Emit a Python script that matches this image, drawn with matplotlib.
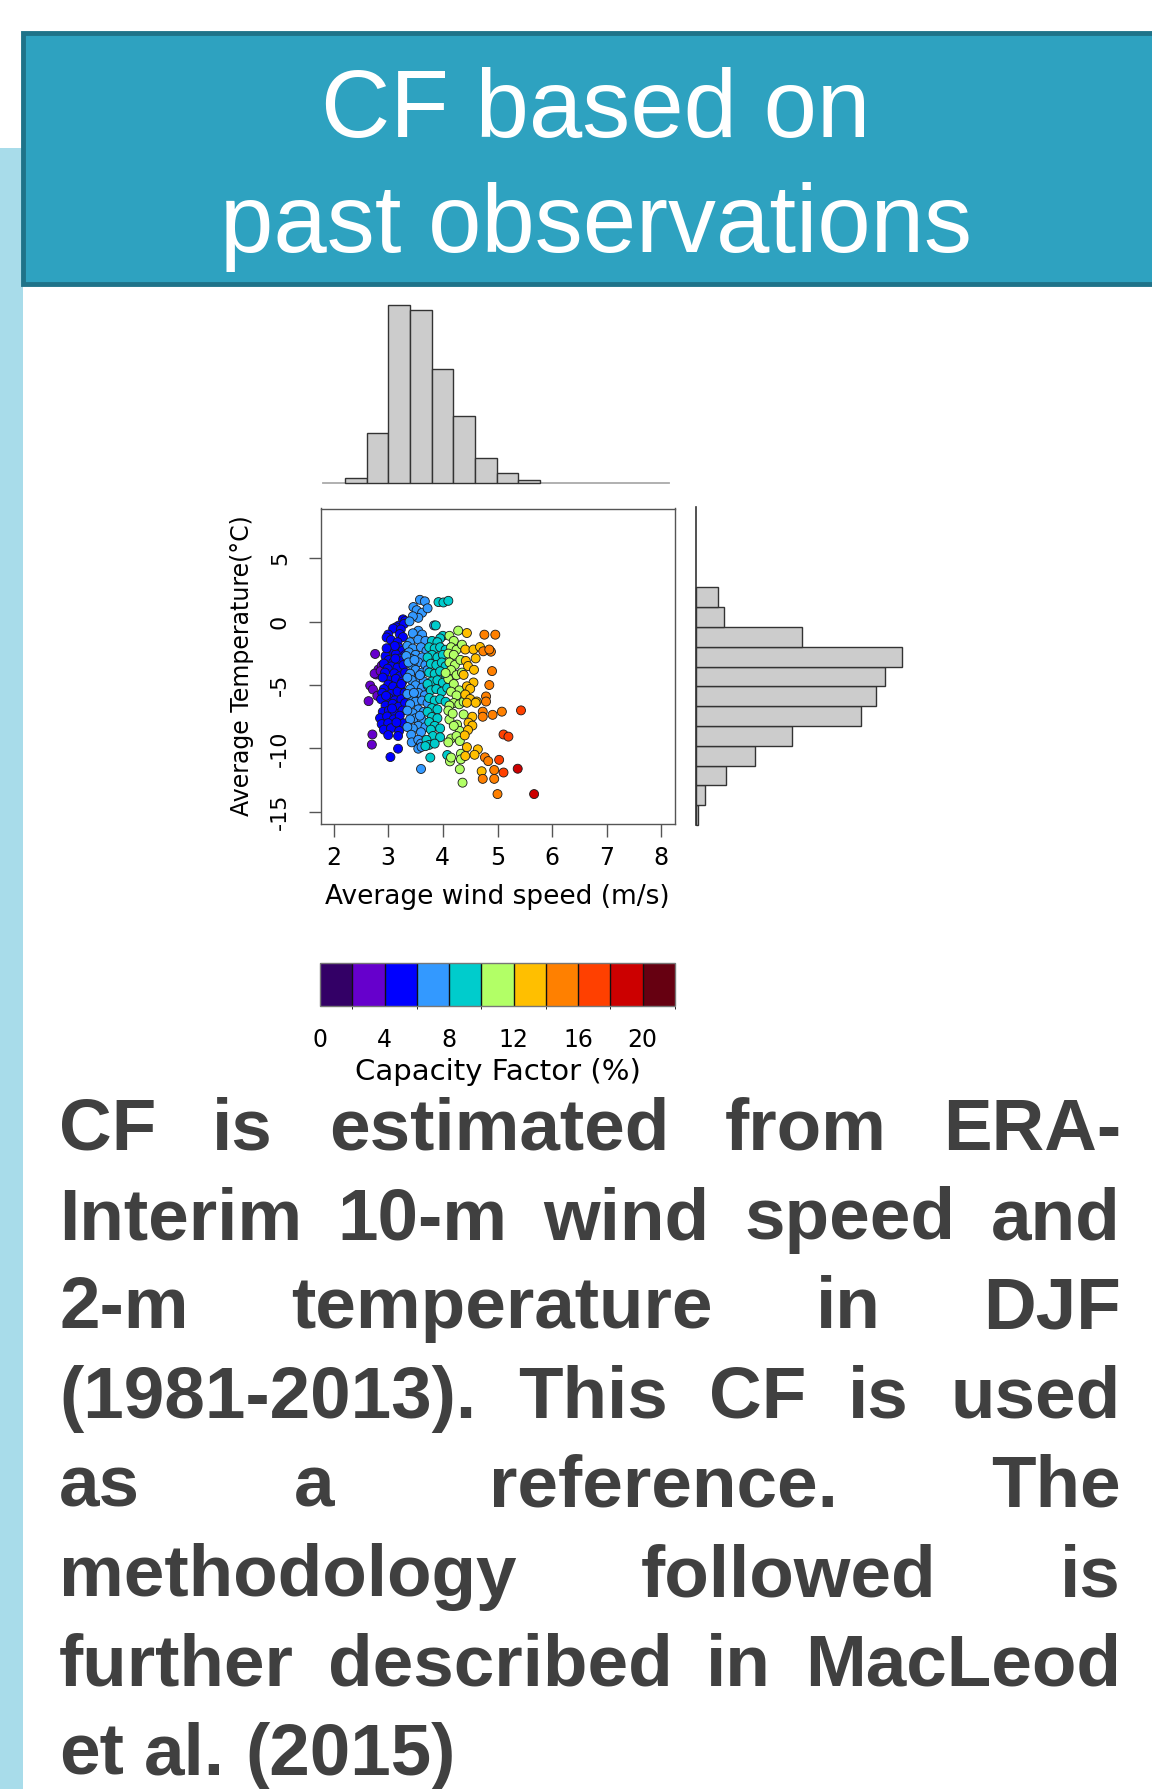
import matplotlib
matplotlib.use("Agg")
import matplotlib.pyplot as plt
from matplotlib.patches import Rectangle
from matplotlib.colors import ListedColormap, BoundaryNorm
from matplotlib.cm import ScalarMappable
import numpy as np

plt.rcParams['axes.unicode_minus'] = False

# ---------------- data ----------------
title_lines = ["CF based on", "past observations"]
body_lines = [
    "CF is estimated from ERA-",
    "Interim 10-m wind speed and",
    "2-m temperature in DJF",
    "(1981-2013). This CF is used",
    "as a reference. The",
    "methodology followed is",
    "further described in MacLeod",
    "et al. (2015)",
]

x_label = "Average wind speed (m/s)"
y_label = "Average Temperature(\u00b0C)"
cbar_label = "Capacity Factor (%)"
x_ticks = [2, 3, 4, 5, 6, 7, 8]
y_ticks = [-15, -10, -5, 0, 5]

# capacity-factor classes (%) and their colours
cf_bounds = [0, 2, 4, 6, 8, 10, 12, 14, 16, 18, 20, 22]
cf_colors = ["#330066", "#6600cc", "#0000ff", "#3399ff", "#00cccc", "#b2ff66",
             "#ffbf00", "#ff8000", "#ff4000", "#cc0000", "#660011"]
cf_tick_values = [0, 4, 8, 12, 16, 20]

# scatter points, grouped by capacity-factor class
wind_cf3 = [2.64, 2.67, 2.72, 2.71, 2.70, 2.76, 2.78, 2.82, 2.88, 2.75, 2.86, 2.80]
temp_cf3 = [-6.27, -5.04, -5.35, -8.90, -9.70, -2.55, -4.17, -3.78, -3.47, -4.10, -3.90, -5.85]

wind_cf5 = [3.27, 3.31, 3.19, 3.14, 3.29, 3.09, 3.23, 3.00, 3.21, 3.27, 2.97, 3.05, 3.17, 3.04,
            3.19, 3.26, 3.11, 2.95, 3.14, 3.31, 3.21, 3.01, 3.09, 3.24, 2.92, 3.06, 3.17, 2.99,
            3.28, 2.94, 3.11, 3.21, 3.31, 3.01, 3.14, 3.26, 2.90, 3.00, 3.09, 3.22, 2.92, 2.89,
            3.05, 3.17, 3.30, 3.01, 3.12, 3.24, 2.87, 2.95, 3.08, 3.19, 3.31, 2.90, 3.01, 3.12,
            3.26, 2.85, 2.98, 3.10, 3.21, 2.88, 3.00, 3.15, 3.28, 2.92, 3.05, 3.20, 3.00, 3.18,
            3.18, 3.04, 3.13, 2.96, 3.15, 3.07, 3.24, 3.12, 2.97]
temp_cf5 = [0.18, 0.05, -0.32, -0.45, -0.18, -0.55, -0.62, -1.02, -0.98, -1.22, -1.25, -1.45,
            -1.62, -2.12, -2.03, -2.31, -2.44, -2.72, -2.58, -2.63, -2.91, -3.03, -3.22, -3.12,
            -3.31, -3.52, -3.63, -3.71, -3.42, -4.02, -4.08, -4.31, -4.02, -4.62, -4.51, -4.72,
            -4.41, -4.96, -5.12, -5.21, -5.32, -5.62, -5.71, -5.52, -5.61, -6.02, -6.21, -6.12,
            -6.12, -6.62, -6.48, -6.71, -6.42, -7.12, -7.02, -7.22, -7.01, -7.61, -7.48, -7.71,
            -7.42, -8.08, -8.01, -8.21, -8.02, -8.52, -8.41, -8.62, -8.95, -9.02, -10.02, -10.68,
            -2.92, -5.85, -7.95, -6.85, -4.92, -1.92, -2.10]

wind_cf7 = [3.58, 3.67, 3.46, 3.52, 3.62, 3.55, 3.45, 3.72, 3.84, 3.39, 3.55, 3.62, 3.45, 3.40,
            3.55, 3.68, 3.35, 3.45, 3.60, 3.70, 3.38, 3.50, 3.62, 3.42, 3.33, 3.55, 3.68, 3.45,
            3.37, 3.50, 3.62, 3.40, 3.72, 3.55, 3.65, 3.43, 3.35, 3.50, 3.62, 3.40, 3.72, 3.55,
            3.67, 3.45, 3.35, 3.50, 3.62, 3.40, 3.72, 3.55, 3.65, 3.45, 3.35, 3.50, 3.62, 3.40,
            3.55, 3.45, 3.35, 3.68, 3.42, 3.60, 3.43, 3.55, 3.60, 3.55, 3.61, 3.60, 3.48, 3.58,
            3.47, 3.58]
temp_cf7 = [1.72, 1.60, 1.15, 0.90, 0.70, 0.30, 0.42, 1.05, -0.30, 0.02, -0.72, -1.02, -0.92,
            -1.62, -1.42, -1.52, -1.92, -2.12, -2.02, -2.31, -2.42, -2.62, -2.82, -2.92, -2.71,
            -3.21, -3.42, -3.51, -3.22, -3.81, -4.02, -4.11, -3.82, -4.51, -4.72, -4.61, -4.42,
            -5.02, -5.21, -5.32, -5.02, -5.62, -5.81, -5.92, -5.71, -6.31, -6.22, -6.51, -6.42,
            -6.92, -7.12, -7.22, -7.02, -7.62, -7.82, -7.71, -8.22, -8.42, -8.31, -8.32, -8.92,
            -8.72, -9.52, -9.32, -9.62, -10.02, -9.88, -11.62, -3.02, -4.22, -5.62, -7.42]

wind_cf9 = [3.92, 4.01, 4.10, 3.87, 4.00, 3.95, 3.80, 3.90, 3.75, 3.85, 3.95, 4.05, 3.80, 3.90,
            4.00, 3.72, 3.78, 3.88, 3.98, 4.05, 3.75, 3.85, 3.95, 4.05, 3.80, 3.90, 4.00, 3.72,
            3.78, 3.88, 3.98, 4.08, 3.75, 3.85, 3.95, 4.05, 3.80, 3.90, 3.72, 3.80, 3.90, 3.75,
            3.85, 3.95, 3.78, 3.82, 3.95, 3.70, 3.75, 3.85, 3.68, 3.77, 4.08]
temp_cf9 = [1.54, 1.51, 1.64, -0.30, -1.12, -1.32, -1.52, -1.62, -2.02, -2.12, -2.02, -2.22,
            -2.62, -2.82, -2.62, -2.82, -3.32, -3.42, -3.22, -3.52, -4.02, -4.12, -3.92, -4.22,
            -4.72, -4.62, -4.82, -4.92, -5.42, -5.32, -5.52, -5.22, -6.02, -6.22, -6.12, -6.32,
            -6.82, -6.92, -7.12, -7.52, -7.62, -7.92, -8.22, -8.42, -8.52, -9.02, -9.12, -9.32,
            -9.72, -9.62, -9.82, -10.72, -10.52]

wind_cf11 = [4.28, 4.12, 4.20, 4.15, 4.25, 4.35, 4.10, 4.20, 4.12, 4.22, 4.32, 4.15, 4.25, 4.35,
             4.10, 4.20, 4.30, 4.15, 4.25, 4.20, 4.30, 4.12, 4.38, 4.10, 4.38, 4.12, 4.26, 4.31,
             4.20, 4.15, 4.25, 4.10, 4.31, 4.33, 4.33, 4.13, 4.15, 4.31, 4.36, 4.05, 4.18]
temp_cf11 = [-0.71, -1.12, -1.52, -2.02, -2.22, -1.82, -2.52, -2.62, -3.22, -3.42, -3.02, -3.82,
             -4.22, -4.02, -4.52, -4.92, -5.42, -5.52, -5.82, -6.42, -6.52, -6.62, -6.32, -7.02,
             -7.32, -7.72, -8.12, -8.62, -8.22, -9.22, -9.02, -9.52, -9.42, -10.42, -10.86,
             -11.02, -10.72, -11.64, -12.70, -4.05, -7.25]

wind_cf13 = [4.44, 4.41, 4.56, 4.68, 4.60, 4.42, 4.46, 4.57, 4.38, 4.56, 4.44, 4.50, 4.41, 4.50,
             4.62, 4.44, 4.60, 4.54, 4.47, 4.54, 4.46, 4.40, 4.44, 4.64, 4.58, 4.41, 4.71]
temp_cf13 = [-0.90, -2.20, -2.20, -2.00, -2.90, -3.10, -3.50, -3.80, -4.20, -4.80, -5.10, -5.30,
             -5.75, -6.10, -6.30, -6.40, -6.40, -7.50, -7.97, -8.20, -8.55, -8.97, -9.90, -10.07,
             -10.50, -10.60, -11.80]

wind_cf15 = [4.76, 4.96, 4.74, 4.88, 4.85, 4.90, 4.85, 4.79, 4.79, 4.73, 4.73, 4.91, 5.08, 4.77,
             4.83, 4.73, 4.94, 4.94, 5.00]
temp_cf15 = [-1.03, -1.03, -2.34, -2.37, -2.20, -3.90, -5.00, -5.90, -6.30, -7.10, -7.50, -7.35,
             -7.10, -10.70, -11.00, -12.40, -11.70, -12.40, -13.60]

wind_cf17 = [5.11, 5.20, 5.43, 5.11, 5.03]
temp_cf17 = [-8.90, -9.07, -7.00, -11.90, -10.90]

wind_cf19 = [5.37, 5.67]
temp_cf19 = [-11.60, -13.60]

groups = [(3, wind_cf3, temp_cf3), (5, wind_cf5, temp_cf5), (7, wind_cf7, temp_cf7),
          (9, wind_cf9, temp_cf9), (11, wind_cf11, temp_cf11), (13, wind_cf13, temp_cf13),
          (15, wind_cf15, temp_cf15), (17, wind_cf17, temp_cf17), (19, wind_cf19, temp_cf19)]

# marginal histograms (counts per bin)
wind_bin_edges = [2.4, 2.8, 3.2, 3.6, 4.0, 4.4, 4.8, 5.2, 5.6, 6.0]
wind_counts = [4, 40, 143, 139, 92, 54, 20, 8, 2]
temp_bin_edges = [-16, -14, -12, -10, -8, -6, -4, -2, 0, 2, 4, 6, 8]
temp_counts = [1, 4, 14, 27, 44, 76, 83, 87, 95, 49, 13, 10]

# ---------------- figure ----------------
W, H = 1152, 1789
fig = plt.figure(figsize=(W / 100, H / 100), dpi=100)
fig.patch.set_facecolor("white")


def fx(px):
    return px / W


def fy(py):
    return 1 - py / H


def axes_px(l, t, r, b):
    return fig.add_axes([l / W, 1 - b / H, (r - l) / W, (b - t) / H])


# left light-blue strip and header band
fig.patches.append(Rectangle((0, fy(H)), fx(23), fy(148) - fy(H), transform=fig.transFigure,
                             facecolor="#a8dcea", edgecolor="none", zorder=0))
fig.patches.append(Rectangle((fx(23), fy(284)), 1.0, fy(33) - fy(284), transform=fig.transFigure,
                             facecolor="#2ea2c0", edgecolor="#1f7389", linewidth=3.5, zorder=1))
for i, (txt, base) in enumerate(zip(title_lines, [137, 252])):
    fig.text(fx(596), fy(base), txt, ha="center", va="baseline", color="white",
             fontsize=69, family="Liberation Sans", zorder=2)

chart_font = "DejaVu Sans"

# ---- scatter ----
ax = axes_px(320.5, 508.5, 674.5, 823.5)
cmap = ListedColormap(cf_colors)
norm = BoundaryNorm(cf_bounds, cmap.N)
for cfv, w, t in groups:
    ax.scatter(w, t, c=[cfv] * len(w), cmap=cmap, norm=norm, s=42,
               edgecolors="#1a1a1a", linewidths=0.6, zorder=3)
ax.set_xlim(1.76, 8.24)
ax.set_ylim(-15.92, 8.92)
for sp in ax.spines.values():
    sp.set_color("#555555")
    sp.set_linewidth(1.0)
ax.set_xticks(x_ticks)
ax.set_xticklabels([str(v) for v in x_ticks], fontsize=17, family=chart_font)
ax.set_yticks(y_ticks)
ax.set_yticklabels([str(v) for v in y_ticks], fontsize=16, family=chart_font,
                   rotation=90, va="center")
ax.tick_params(direction="out", length=9, width=1, color="#555555")
ax.tick_params(axis="x", pad=7)
ax.tick_params(axis="y", pad=13)
ax.set_xlabel(x_label, fontsize=19, family=chart_font, va="center")
ax.xaxis.set_label_coords(0.5, -(897 - 823.5) / 315.0)
ax.set_ylabel(y_label, fontsize=17, family=chart_font, va="center")
ax.yaxis.set_label_coords((242 - 320.5) / 354.0, 0.5)

# ---- top histogram (wind speed) ----
axt = axes_px(322.7, 305.3, 669, 482.7)
widths = np.diff(wind_bin_edges)
axt.bar(wind_bin_edges[:-1], wind_counts, width=widths, align="edge",
        facecolor="#cccccc", edgecolor="#333333", linewidth=1.0, clip_on=False, zorder=2)
axt.set_xlim(1.99, 8.38)
axt.set_ylim(0, max(wind_counts))
axt.axhline(0, color="#aaaaaa", linewidth=1.3, zorder=1, clip_on=False)
axt.axis("off")

# ---- right histogram (temperature) ----
axr = axes_px(696, 507.3, 902.3, 825)
heights = np.diff(temp_bin_edges)
axr.barh(temp_bin_edges[:-1], temp_counts, height=heights, align="edge",
         facecolor="#cccccc", edgecolor="#333333", linewidth=1.0, clip_on=False, zorder=2)
axr.set_xlim(0, max(temp_counts))
axr.set_ylim(-16, 16.08)
for name, sp in axr.spines.items():
    sp.set_visible(name == "left")
axr.spines["left"].set_color("#333333")
axr.spines["left"].set_linewidth(1.2)
axr.set_xticks([])
axr.set_yticks([])
axr.patch.set_alpha(0)

# ---- colour bar ----
cax = axes_px(320, 963, 675, 1006)
cb = fig.colorbar(ScalarMappable(norm=norm, cmap=cmap), cax=cax, orientation="horizontal",
                  drawedges=True)
cb.outline.set_edgecolor("#777777")
cb.outline.set_linewidth(1.0)
cb.dividers.set_color("#111111")
cb.dividers.set_linewidth(1.0)
cb.set_ticks(cf_tick_values)
cb.set_ticklabels([str(v) for v in cf_tick_values])
cax.tick_params(length=0, pad=16, labelsize=17)
for lab in cax.get_xticklabels():
    lab.set_family(chart_font)
cax.set_xlabel(cbar_label, fontsize=21, family=chart_font, va="center")
cax.xaxis.set_label_coords(0.5, -(1072 - 1006) / 43.0)

# ---- body text (justified) ----
renderer = fig.canvas.get_renderer()
left_px, right_px = 59, 1121
body_fs = 52.5
baselines = [1149.7 + 89.3 * i for i in range(len(body_lines))]
for i, line in enumerate(body_lines):
    words = line.split()
    y = fy(baselines[i])
    texts = [fig.text(0, y, wd, fontsize=body_fs, fontweight="bold", family="Liberation Sans",
                      color="#404040", va="baseline", ha="left") for wd in words]
    wds = [t.get_window_extent(renderer).width for t in texts]
    if i < len(body_lines) - 1:
        gap = (right_px - left_px - sum(wds)) / (len(words) - 1)
    else:
        gap = 0.278 * body_fs * 100 / 72
    x = left_px
    for t, w in zip(texts, wds):
        t.set_x(fx(x))
        x += w + gap

fig.savefig("out.png", dpi=100, facecolor="white")
